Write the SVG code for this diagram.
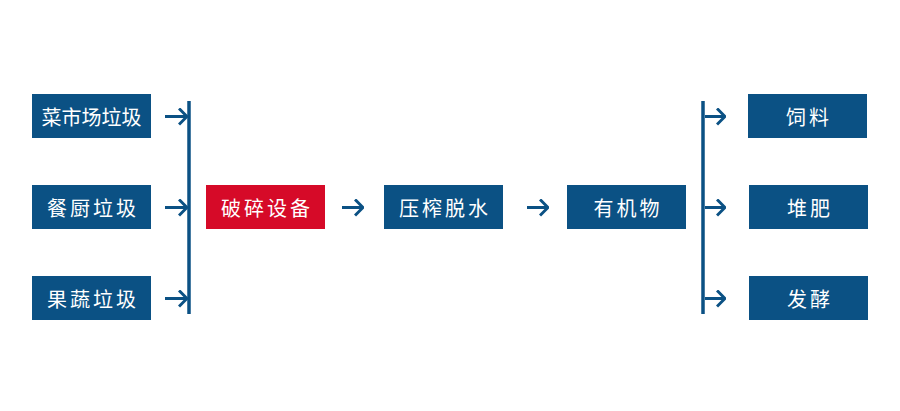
<svg xmlns="http://www.w3.org/2000/svg" width="900" height="411" viewBox="0 0 900 411">
<defs>
<style>
.b{fill:#0b5184}
.r{fill:#d60a28}
.t{fill:#ffffff;font-family:"Noto Sans CJK SC","Noto Sans",sans-serif;font-size:20px;text-anchor:middle;dominant-baseline:central}
.s{letter-spacing:3px}
.ln{stroke:#0b5184;stroke-width:3;fill:none}
.bar{stroke:#0b5184;stroke-width:3.5;fill:none}
</style>
<marker id="ah" viewBox="0 0 10 18" markerWidth="10" markerHeight="18" refX="9" refY="9" markerUnits="userSpaceOnUse" orient="auto">
<path d="M1,1 L9,9 L1,17" fill="none" stroke="#0b5184" stroke-width="3"/>
</marker>
</defs>
<rect width="900" height="411" fill="#ffffff"/>
<g id="n1"><rect class="b" x="32" y="94" width="119" height="44"/><text class="t" x="91.5" y="116">菜市场垃圾</text></g>
<g id="n2"><rect class="b" x="32" y="185" width="119" height="44"/><text class="t s" x="93" y="207">餐厨垃圾</text></g>
<g id="n3"><rect class="b" x="32" y="276" width="119" height="44"/><text class="t s" x="93" y="298">果蔬垃圾</text></g>
<g id="n4"><rect class="r" x="206" y="185" width="119" height="44"/><text class="t s" x="267" y="207">破碎设备</text></g>
<g id="n5"><rect class="b" x="384" y="185" width="119" height="44"/><text class="t s" x="445" y="207">压榨脱水</text></g>
<g id="n6"><rect class="b" x="567" y="185" width="119" height="44"/><text class="t s" x="628" y="207">有机物</text></g>
<g id="n7"><rect class="b" x="748" y="94" width="119" height="44"/><text class="t s" x="809" y="116">饲料</text></g>
<g id="n8"><rect class="b" x="749" y="185" width="119" height="44"/><text class="t s" x="810" y="207">堆肥</text></g>
<g id="n9"><rect class="b" x="749" y="276" width="119" height="44"/><text class="t s" x="810" y="298">发酵</text></g>
<g id="connectors">
<line class="bar" x1="189" y1="101" x2="189" y2="314"/>
<line class="bar" x1="703" y1="101" x2="703" y2="314"/>
<line class="ln" x1="165" y1="116.5" x2="187" y2="116.5" marker-end="url(#ah)"/>
<line class="ln" x1="165" y1="207.5" x2="187" y2="207.5" marker-end="url(#ah)"/>
<line class="ln" x1="165" y1="298.5" x2="187" y2="298.5" marker-end="url(#ah)"/>
<line class="ln" x1="342" y1="207.5" x2="363" y2="207.5" marker-end="url(#ah)"/>
<line class="ln" x1="527" y1="207.5" x2="548" y2="207.5" marker-end="url(#ah)"/>
<line class="ln" x1="705" y1="116.5" x2="725" y2="116.5" marker-end="url(#ah)"/>
<line class="ln" x1="705" y1="207.5" x2="725" y2="207.5" marker-end="url(#ah)"/>
<line class="ln" x1="705" y1="298.5" x2="725" y2="298.5" marker-end="url(#ah)"/>
</g>
</svg>
